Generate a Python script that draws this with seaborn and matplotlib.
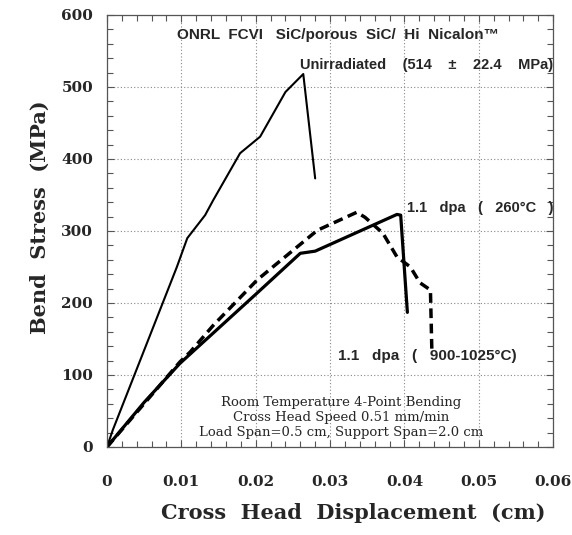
import numpy as np
import pandas as pd
import matplotlib
matplotlib.use("Agg")
import matplotlib.pyplot as plt
import seaborn as sns
from matplotlib.ticker import MultipleLocator


# curve data
unirr_x = [0, 0.0008, 0.0094, 0.0108, 0.0132, 0.0143, 0.0179, 0.0206, 0.0240, 0.0264, 0.0280]
unirr_y = [0, 24, 250, 290, 322, 343, 408, 431, 493, 518, 373]

low_x = [0, 0.005, 0.0098, 0.0200, 0.0260, 0.0280, 0.0390, 0.0395, 0.0404]
low_y = [0, 62, 116, 212, 269, 272, 323, 322, 187]

high_x = [0, 0.0098, 0.0112, 0.0143, 0.0202, 0.0223, 0.0283, 0.0336, 0.0347,
          0.0371, 0.0390, 0.0408, 0.0421, 0.0435, 0.0437]
high_y = [0, 118, 132, 169, 232, 250, 301, 326, 319,
          297, 264, 250, 228, 218, 130]

x_ticks = [0, 0.01, 0.02, 0.03, 0.04, 0.05, 0.06]
x_tick_labels = ["0", "0.01", "0.02", "0.03", "0.04", "0.05", "0.06"]
y_ticks = [0, 100, 200, 300, 400, 500, 600]


sns.set_style("ticks")
serif = ["DejaVu Serif"]
sans = ["Liberation Sans", "DejaVu Sans"]

fig = plt.figure(figsize=(5.72, 5.35), dpi=100)
ax = fig.add_axes([0.187, 0.1645, 0.78, 0.8075])

sns.lineplot(x=unirr_x, y=unirr_y, ax=ax, color="black", lw=1.5,
             sort=False, estimator=None)
sns.lineplot(x=low_x, y=low_y, ax=ax, color="black", lw=2.3,
             sort=False, estimator=None)
sns.lineplot(x=high_x, y=high_y, ax=ax, color="black", lw=2.5,
             sort=False, estimator=None)
ax.lines[-1].set_dashes([2.8, 1.6])

ax.set_xlim(0, 0.06)
ax.set_ylim(0, 600)
ax.set_xticks(x_ticks)
ax.set_xticklabels(x_tick_labels)
ax.set_yticks(y_ticks)
ax.xaxis.set_minor_locator(MultipleLocator(0.002))
ax.yaxis.set_minor_locator(MultipleLocator(20))
ax.tick_params(which="both", direction="in", top=True, right=True,
               color="#555555", width=0.8)
ax.tick_params(which="major", length=5)
ax.tick_params(which="minor", length=4)
ax.tick_params(axis="x", pad=20)
ax.tick_params(axis="y", pad=10)
for lab in ax.get_xticklabels() + ax.get_yticklabels():
    lab.set_fontfamily(serif)
    lab.set_fontweight("bold")
    lab.set_fontsize(11)
for s in ax.spines.values():
    s.set_color("#555555")
    s.set_linewidth(0.9)
ax.grid(True, which="major", linestyle=(0, (1, 2)), color="#888888", lw=0.8)

ax.set_xlabel("Cross  Head  Displacement  (cm)", fontfamily=serif,
              fontweight="bold", fontsize=15, va="center")
ax.xaxis.set_label_coords(0.553, -0.153)
ax.set_ylabel("Bend  Stress  (MPa)", fontfamily=serif,
              fontweight="bold", fontsize=15, va="center")
ax.yaxis.set_label_coords(-0.150, 0.532)

# annotations
ax.text(0.00943, 572, "ONRL  FCVI   SiC/porous  SiC/  Hi  Nicalon\u2122",
        fontfamily=sans, fontweight="bold", fontsize=11, ha="left", va="center")
ax.text(0.0259, 530, "Unirradiated    (514    \u00b1    22.4    MPa)",
        fontfamily=sans, fontweight="bold", fontsize=10.5, ha="left", va="center")
ax.text(0.0404, 332, "1.1   dpa   (   260\u00b0C   )",
        fontfamily=sans, fontweight="bold", fontsize=10.5, ha="left", va="center")
ax.text(0.0311, 127, "1.1   dpa   (   900-1025\u00b0C)",
        fontfamily=sans, fontweight="bold", fontsize=11, ha="left", va="center")
ax.text(0.0315, 41, "Room Temperature 4-Point Bending\nCross Head Speed 0.51 mm/min\n"
        "Load Span=0.5 cm, Support Span=2.0 cm",
        fontfamily=serif, fontsize=9.5, ha="center", va="center", linespacing=1.2)

fig.savefig("out.png", dpi=100)
